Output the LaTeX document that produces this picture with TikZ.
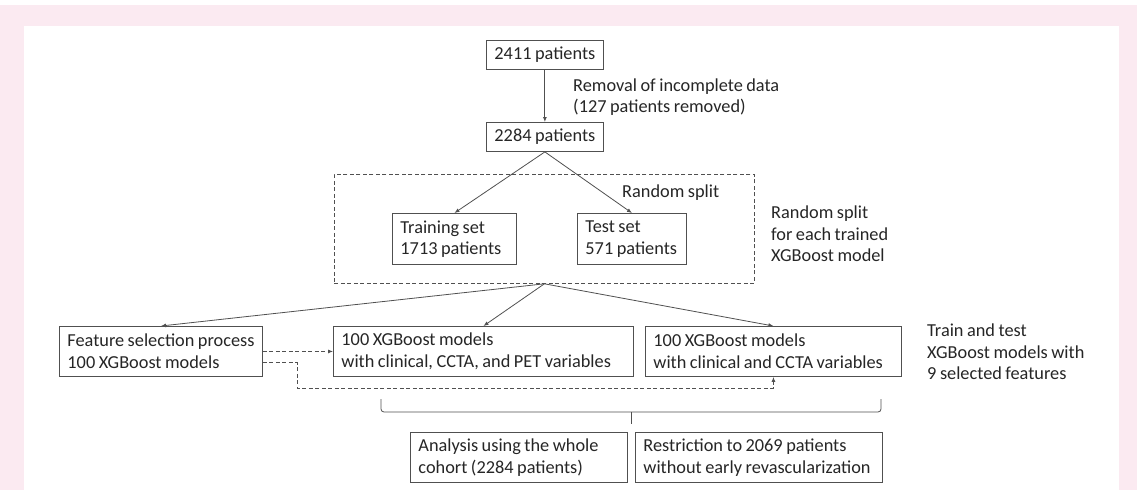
\documentclass[tikz,border=0pt]{standalone}
\usepackage{fontspec}
\setmainfont{Carlito}[WordSpace=0.85]
\usetikzlibrary{arrows.meta}
\definecolor{pinkbg}{HTML}{FBEAF1}
\definecolor{linegray}{HTML}{505050}
\begin{document}
\begin{tikzpicture}[x=1pt,y=-1pt,
  font=\fontsize{18.3pt}{21.5pt}\selectfont,
  box/.style={draw=linegray, line width=0.9pt, anchor=north west, align=flush left, inner xsep=8pt, inner ysep=0pt, text=black!85},
  tag/.style={anchor=west, align=left, inner sep=0pt, text=black!85},
  link/.style={draw=linegray, line width=0.8pt, -{Latex[length=5pt,width=4pt]}},
  dlink/.style={link, dash pattern=on 4pt off 2.5pt}]
% Background frame
\useasboundingbox (0,0) rectangle (1137,490);
\fill[pinkbg] (0,5) rectangle (1137,490);
\fill[white] (24,26) rectangle (1119,490);

% Patient numbers
\node[box, minimum width=116pt, minimum height=29pt] (first) at (486,40) {2411 patients};
\node[box, minimum width=116pt, minimum height=29pt] (second) at (486,122) {2284 patients};
\node[tag] (removal) at (573,97) {Removal of incomplete data\\(127 patients removed)};

% Random split
\node[draw=linegray, line width=0.8pt, dash pattern=on 4pt off 2.5pt, anchor=north west, minimum width=420pt, minimum height=109pt, inner sep=0pt] (split) at (334,174) {};
\node[box, text width=108pt, minimum height=51pt] (train) at (392,213) {Training set\\1713 patients};
\node[box, text width=93pt, minimum height=51pt] (test) at (577,213) {Test set\\571 patients};
\node[tag] (randsplit) at (622,193) {Random split};
\node[tag] (splitnote) at (771,234) {Random split\\for each trained\\XGBoost model};

% Models
\node[box, text width=187pt, minimum height=50pt] (feat) at (59,326) {Feature selection process\\100 XGBoost models};
\node[box, text width=284pt, minimum height=50pt] (full) at (333,326) {100 XGBoost models\\with clinical, CCTA, and PET variables};
\node[box, text width=240pt, minimum height=50pt] (ccta) at (645,326) {100 XGBoost models\\with clinical and CCTA variables};
\node[tag] (trainnote) at (927,352) {Train and test\\XGBoost models with\\9 selected features};

% Analyses
\node[box, text width=201pt, minimum height=50pt] (whole) at (410,432) {Analysis using the whole\\cohort (2284 patients)};
\node[box, text width=231pt, minimum height=50pt] (restr) at (635,432) {Restriction to 2069 patients\\without early revascularization};

% Arrows
\draw[link] (first) -- (second);
\draw[link] (second.south) -- (train.north);
\draw[link] (second.south) -- (test.north);
\draw[link] (split.south) -- (feat.north);
\draw[link] (split.south) -- (full.north);
\draw[link] (split.south) -- (ccta.north);

% Selected features passed on
\coordinate (bend) at (297,388);
\draw[dlink] (feat.east) -- (full.west);
\draw[dlink] ([yshift=-11pt]feat.east) -| (bend) -| (ccta.south);

% Brace
\coordinate (tip) at (631,424);
\draw[linegray, line width=0.8pt, rounded corners=3pt] (381,399) -- (381,412) -- (881,412) -- (881,399);
\draw[linegray, line width=0.8pt] (631,412) -- (tip);
\end{tikzpicture}
\end{document}
